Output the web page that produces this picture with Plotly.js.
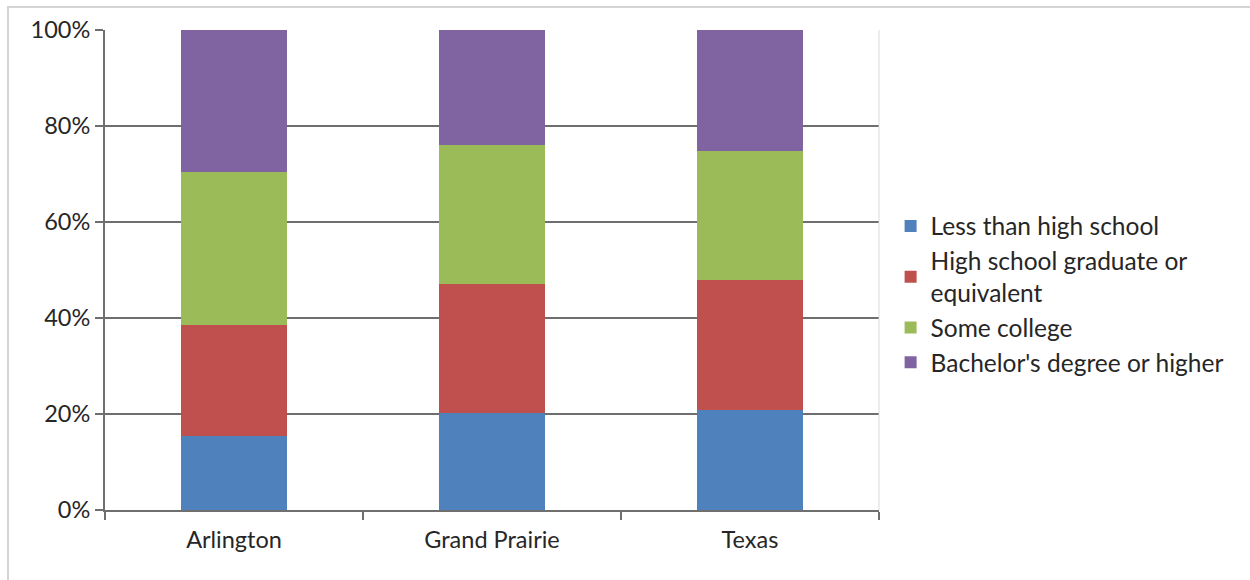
<!DOCTYPE html>
<html>
<head>
<meta charset="utf-8">
<script src="https://cdn.plot.ly/plotly-3.0.1.min.js"></script>
<style>
  html, body { margin: 0; padding: 0; background: #fff; }
  #wrap { position: relative; width: 1250px; height: 580px; overflow: hidden; }
  #chart { width: 1250px; height: 580px; }
  #frame { position: absolute; left: 7px; top: 6px; width: 1250px; height: 580px;
           border-top: 2px solid #d4d4d4; border-left: 2px solid #d4d4d4; pointer-events: none; }
</style>
</head>
<body>
<div id="wrap">
  <div id="chart"></div>
  <div id="frame"></div>
</div>
<script>
// Educational attainment shares (percent of adults 25+)
const places = ["Arlington", "Grand Prairie", "Texas"];
const lessThanHS = [15.4, 20.3, 20.9];
const hsGraduate = [23.1, 26.8, 27.0];
const someCollege = [32.0, 29.0, 26.9];
const bachelorsPlus = [29.5, 23.9, 25.2];
const seriesNames = ["Less than high school", "High school graduate or<br>equivalent", "Some college", "Bachelor's degree or higher"];
const seriesColors = ["#4F81BD", "#C0504D", "#9BBB59", "#8064A2"];
const yTicks = [0, 20, 40, 60, 80, 100];
const yTickText = ["0%", "20%", "40%", "60%", "80%", "100%"];

const seriesValues = [lessThanHS, hsGraduate, someCollege, bachelorsPlus];
const traces = seriesValues.map((vals, i) => ({
  type: "bar",
  name: seriesNames[i],
  x: places,
  y: vals,
  marker: { color: seriesColors[i], line: { width: 0 } },
  hoverinfo: "x+y+name"
}));

const font = "Lato, 'Open Sans', sans-serif";
const layout = {
  width: 1250,
  height: 580,
  barmode: "stack",
  bargap: 0.59,
  margin: { l: 105, r: 371, t: 30, b: 70 },
  paper_bgcolor: "#ffffff",
  plot_bgcolor: "#ffffff",
  showlegend: true,
  legend: {
    x: 1.015, xanchor: "left", y: 0.449, yanchor: "middle",
    font: { family: font, size: 24.5, color: "#262626" },
    itemwidth: 30, tracegroupgap: 0, traceorder: "normal",
    bgcolor: "rgba(0,0,0,0)"
  },
  xaxis: {
    type: "category",
    tickson: "boundaries",
    ticks: "outside",
    ticklen: 8,
    tickwidth: 2,
    tickcolor: "#6f6f6f",
    showline: true,
    linecolor: "#6f6f6f",
    linewidth: 2,
    showgrid: false,
    ticklabelstandoff: 8,
    tickfont: { family: font, size: 23.5, color: "#262626" },
    mirror: false
  },
  yaxis: {
    range: [0, 100],
    tickvals: yTicks,
    ticktext: yTickText,
    ticks: "outside",
    ticklen: 8,
    tickwidth: 2,
    tickcolor: "#6f6f6f",
    showline: true,
    linecolor: "#6f6f6f",
    linewidth: 2,
    showgrid: true,
    gridcolor: "#6e6e6e",
    gridwidth: 2,
    zeroline: false,
    tickfont: { family: font, size: 23.5, color: "#262626" }
  },
  shapes: [
    { type: "line", xref: "paper", yref: "paper", x0: 1, x1: 1, y0: 0, y1: 1,
      line: { color: "#d9d9d9", width: 1 } }
  ]
};

Plotly.newPlot("chart", traces, layout, { displayModeBar: false, staticPlot: true });
</script>
</body>
</html>
